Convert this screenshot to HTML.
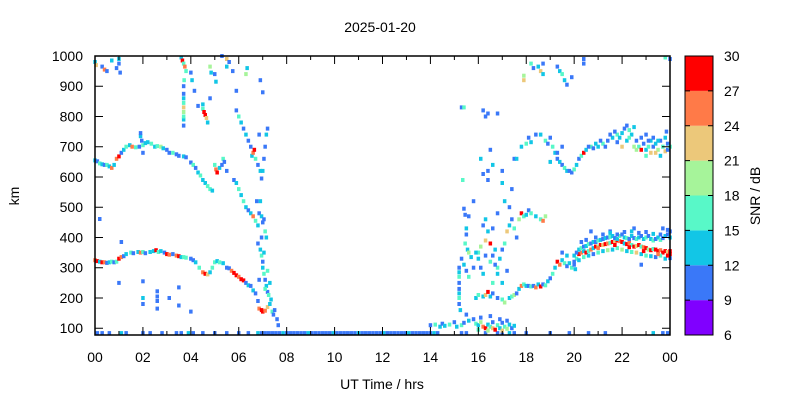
<!DOCTYPE html>
<html><head><meta charset="utf-8"><style>
body{margin:0;background:#fff;}
svg{display:block;font-family:"Liberation Sans",sans-serif;}
</style></head><body>
<svg id="chart" width="800" height="400" viewBox="0 0 800 400">
<rect width="800" height="400" fill="#fff"/>
<text x="380" y="32" font-size="14" text-anchor="middle">2025-01-20</text>
<text x="382" y="389" font-size="14" text-anchor="middle">UT Time / hrs</text>
<text transform="translate(19,196) rotate(-90)" font-size="14" text-anchor="middle">km</text>
<text transform="translate(760,196) rotate(-90)" font-size="14" text-anchor="middle">SNR / dB</text>
<g id="marks"></g>
<g id="axes"></g>
<g id="cbar"></g>
</svg>
<script>
const xTicks=["00","02","04","06","08","10","12","14","16","18","20","22","00"];
const yTicks=[100,200,300,400,500,600,700,800,900,1000];
const cbTicks=[6,9,12,15,18,21,24,27,30];
const cbColors=["#8000ff","#3a78f8","#12c6e6","#58f8c8","#a6f49a","#ecc87a","#ff7a48","#ff0000"];
const baseTimes=[0.1,0.3,0.6,1.1,1.3,2.0,2.3,2.8,3.4,3.6,3.9,4.1,4.5,5.0,5.5,6.0,6.4,6.8,6.95,7.1,7.25,7.4,7.55,7.7,7.85,8.0,8.15,8.3,8.45,8.6,8.75,8.9,9.05,9.2,9.35,9.5,9.65,9.8,9.95,10.1,10.25,10.4,10.55,10.7,10.85,11.0,11.15,11.3,11.45,11.6,11.75,11.9,12.05,12.2,12.35,12.5,12.65,12.8,12.95,13.1,13.25,13.4,13.55,13.7,13.85,14.0,14.15,14.3,15.3,15.5,16.3,16.8,17.0,17.3,17.5,18.0,19.0,19.8,20.6,21.3,23.3,23.7,23.9];
const baseKm=84;
const morningF=[0.0,325,25,0.1,322,28,0.2,320,13,0.3,318,28,0.4,318,25,0.5,316,10,0.6,318,13,0.7,320,16,0.8,318,10,0.9,320,16,1.0,330,28,1.1,335,25,1.2,338,10,1.3,345,13,1.5,350,16,1.6,348,10,1.8,352,13,1.9,350,25,2.0,352,16,2.1,348,10,2.3,352,13,2.45,355,13,2.55,358,28,2.65,352,16,2.75,355,13,2.9,350,10,3.0,345,28,3.1,343,25,3.25,345,10,3.4,340,25,3.5,338,28,3.6,335,13,3.7,335,16,3.8,333,16,4.0,330,10,4.1,325,10,4.2,318,13,4.35,300,16,4.5,285,25,4.6,280,28,4.7,278,22,4.8,285,13,4.9,300,16,5.0,318,16,5.1,322,13,5.2,318,16,5.35,315,13,5.5,300,10,5.6,298,10,5.7,290,25,5.8,283,28,5.9,275,28,6.0,270,25,6.1,262,28,6.2,258,28,6.3,250,10,6.4,242,13,6.5,240,10,6.6,225,13,6.7,215,10,6.8,190,10,6.85,165,25,6.95,160,28,7.0,155,28,7.1,158,25,7.2,170,22,7.3,180,13,7.4,155,16,7.45,145,10,
6.8,380,10,6.9,360,13,6.95,340,16,7.0,320,10,7.0,300,13,7.05,280,16,7.1,260,10,7.15,240,13,7.2,220,10,7.25,210,16,7.3,250,13,7.1,230,16,7.35,195,13,7.5,160,10,7.6,130,10,7.65,110,10,6.95,400,10,7.05,350,13,7.2,290,16,6.85,260,10,
1.0,250,10,2.0,255,10,2.0,200,13,2.0,180,10,2.6,222,10,2.6,205,10,2.6,190,10,2.6,165,10,3.1,200,10,3.5,235,10,3.5,175,10,4.0,155,10,1.1,385,10,0.2,461,10];
const morningUpper=[0.0,655,13,0.1,652,10,0.2,645,16,0.3,642,13,0.4,640,10,0.5,640,16,0.6,635,13,0.7,630,25,0.8,640,13,0.9,660,25,1.0,668,28,1.1,680,10,1.2,690,13,1.3,700,16,1.45,705,13,1.55,700,25,1.7,698,16,1.85,700,10,2.0,705,16,2.1,712,13,2.2,715,13,2.35,710,16,2.5,700,13,2.6,702,16,2.75,700,19,2.85,695,13,3.0,690,10,3.1,680,10,3.25,680,16,3.4,675,10,3.5,670,10,3.7,668,13,3.8,665,10,4.0,648,10,4.1,640,16,4.2,630,10,4.3,615,13,4.4,605,16,4.5,590,13,4.6,580,13,4.7,570,16,4.8,560,16,4.9,555,13,1.9,735,13,1.9,745,10,1.95,720,10,2.0,680,10,
5.0,640,16,5.05,625,25,5.1,615,28,5.2,630,13,5.3,640,10,5.35,660,16,5.4,650,10,5.5,620,10,
5.8,590,10,5.9,580,13,6.0,560,16,6.1,540,13,6.2,520,16,6.3,500,13,6.4,490,10,6.5,480,13,6.6,470,25,6.7,455,16,6.8,440,13,6.85,480,10,6.95,470,13,7.0,450,10,7.1,420,16,7.15,400,13,6.75,520,10,6.9,520,13,7.05,460,10,
5.9,820,10,6.0,800,16,6.1,780,13,6.2,760,10,6.3,740,13,6.4,720,10,6.5,700,10,6.55,670,13,6.7,660,16,6.8,640,10,6.9,620,13,6.95,595,10,7.0,620,13,7.05,660,10,7.1,700,10,7.15,740,13,7.2,760,10,6.85,740,10,6.6,680,25,6.65,690,28,
3.7,770,10,3.7,790,13,3.7,800,16,3.7,815,19,3.7,830,22,3.7,845,16,3.7,860,13,3.7,875,10,3.7,900,10,3.72,920,16,4.15,885,10,4.3,835,10,4.5,840,13,4.5,825,16,4.55,815,28,4.6,805,28,4.65,795,22,4.7,780,13,4.8,860,10];
const morningTop=[0.0,980,13,0.05,970,22,0.3,965,10,0.4,955,25,0.5,950,10,0.7,985,13,0.9,960,10,1.0,975,10,1.05,945,10,1.0,990,13,3.6,995,13,3.65,985,28,3.7,975,16,3.75,965,25,3.8,950,16,4.0,945,10,4.05,920,13,4.8,965,19,4.85,945,13,5.0,940,10,5.05,915,13,5.3,1000,10,5.5,965,13,5.5,990,22,5.6,980,10,5.75,950,10,6.3,940,19,6.35,960,13,6.9,920,10,7.0,880,10,5.9,885,10];
const eveningLow=[14.0,110,10,14.2,112,16,14.4,105,13,14.5,115,10,14.6,108,13,14.8,112,16,15.0,120,10,15.1,105,13,15.3,110,16,15.4,118,10,15.6,125,13,15.8,130,10,15.9,115,16,16.0,110,13,16.1,120,19,16.2,105,25,16.3,100,28,16.4,112,13,16.5,105,16,16.6,100,22,16.7,95,28,16.8,110,16,16.9,100,13,17.0,118,10,17.1,105,16,17.2,98,19,17.3,112,13,17.4,100,10,17.5,108,13,16.1,135,10,16.5,140,10,15.5,145,10,16.9,130,10,16.0,95,16,16.4,92,19,16.6,120,10,17.0,92,22,17.2,125,10,
15.2,180,10,15.2,200,16,15.2,215,13,15.2,230,10,15.2,250,10,15.2,270,16,15.2,285,13,15.2,300,10,15.25,160,13,15.35,590,16,15.4,495,10,15.45,475,10,15.5,430,13,15.5,410,10,15.45,380,16,15.55,360,13,15.6,350,19,15.7,335,13,
15.9,200,13,16.0,210,16,16.2,205,13,16.3,210,22,16.4,220,28,16.5,205,13,16.6,215,10,16.8,200,10,17.0,195,16,17.1,185,19,17.3,200,13,17.4,205,16,17.5,210,19,17.6,215,10,17.7,230,13,17.8,240,25,17.9,245,16,18.0,240,13,18.1,240,10,18.2,238,16,18.3,240,10,18.4,235,25,18.5,245,13,18.6,238,28,18.7,245,10,18.8,242,16,18.9,255,13,19.0,265,10,19.1,280,16,19.2,300,13,19.3,320,28,19.4,310,25,19.5,325,13,19.6,315,16,19.7,305,10,19.8,315,13,19.9,300,16,20.0,310,10,20.05,295,13,
16.0,330,13,16.0,350,16,16.1,370,19,16.1,300,10,16.2,280,13,16.3,340,10,16.3,390,22,16.4,420,13,16.5,380,28,16.5,320,16,16.6,340,10,16.7,360,13,16.8,300,16,16.9,330,13,17.0,360,10,17.1,380,16,17.2,420,22,17.3,440,13,17.4,460,10,17.5,430,16,17.6,400,10,17.7,460,19,17.8,480,28,17.9,470,16,18.0,475,13,18.1,490,10,18.2,480,16,18.4,470,13,18.6,460,16,18.7,455,25,18.8,470,19,16.7,310,10,16.8,280,13,16.6,250,16,17.2,290,10,17.0,250,13,15.6,470,10,15.8,520,10,16.2,610,10,16.4,620,10,16.6,640,13,16.4,590,10,17.0,620,10,17.4,560,10,17.0,580,13,
15.3,330,10,15.4,310,13,15.5,290,10,15.6,270,16,15.8,300,10,15.9,350,13,16.2,440,10,16.3,460,13,16.6,430,10,16.8,480,10,17.1,520,13,17.3,500,10];
const eveningUpper=[16.2,820,10,16.4,810,10,16.8,810,10,17.5,660,10,17.6,660,13,17.8,700,13,18.0,710,16,18.1,730,10,18.2,715,13,18.4,740,10,18.6,740,13,18.8,720,16,18.9,710,10,19.0,730,10,19.1,700,16,19.2,680,13,19.3,660,10,19.4,650,13,19.5,640,10,19.6,630,16,19.7,620,13,19.8,620,10,19.9,615,10,20.0,625,16,20.1,640,13,20.2,660,10,20.3,670,16,20.4,680,28,20.5,690,13,20.7,700,16,20.8,695,10,21.0,700,13,21.2,710,16,21.4,720,10,21.6,730,13,21.8,740,16,22.0,745,13,22.1,760,10,22.3,755,16,22.4,740,13,22.6,720,10,22.7,700,16,22.8,690,28,22.9,710,10,23.0,690,13,23.1,700,16,23.2,680,22,23.3,700,10,23.4,710,13,23.5,690,19,23.6,670,13,23.7,700,16,23.8,685,22,23.9,710,10,22.2,720,13,22.5,700,19,22.8,730,10,23.2,720,13,23.6,720,10,23.8,730,13,21.8,715,10,21.9,730,13,22.3,730,16,22.0,700,22,23.0,670,16,23.4,680,22,22.6,690,19,23.85,750,10,23.0,740,10,
20.6,700,10,20.9,710,13,21.1,720,10,21.3,700,10,21.5,740,10,21.7,750,10,22.2,770,10,22.5,765,13,23.1,720,10,23.3,730,10,23.5,720,13,23.9,690,10,24.0,700,16,19.3,680,10,19.5,700,10,19.0,650,13,
17.9,920,22,17.9,935,19,18.2,975,16,18.3,960,10,18.5,965,13,18.6,950,22,18.7,940,13,18.7,975,10,19.3,965,10,19.4,950,13,19.5,940,16,19.6,920,13,19.7,905,10,19.9,930,10,20.4,990,10,20.4,975,10,23.8,995,16,24.0,990,10,15.3,830,10,15.4,830,16,16.3,800,10,16.1,660,13,16.5,690,10];
const eveningF=[20.1,330,16,20.2,345,28,20.3,350,25,20.4,355,13,20.5,350,28,20.6,355,16,20.7,360,25,20.8,365,13,20.9,370,28,21.0,370,19,21.1,375,28,21.2,375,22,21.3,378,28,21.4,380,25,21.5,382,16,21.6,385,28,21.7,385,22,21.8,390,28,21.9,388,25,22.0,385,28,22.1,380,13,22.2,378,28,22.3,382,25,22.4,375,16,22.5,370,28,22.6,372,22,22.7,375,28,22.8,370,16,22.9,368,25,23.0,365,28,23.1,360,19,23.2,358,28,23.3,362,16,23.4,360,28,23.5,355,28,23.6,358,25,23.7,350,28,23.8,355,28,23.9,352,22,24.0,355,28,
20.0,340,13,20.1,350,10,20.2,360,13,20.3,365,16,20.4,370,10,20.5,372,13,20.6,378,16,20.7,380,10,20.8,385,13,20.9,385,10,21.0,390,16,21.1,392,13,21.2,395,10,21.3,398,13,21.4,400,10,21.5,402,16,21.6,405,13,21.7,398,10,21.8,395,13,21.9,405,16,22.0,410,10,22.1,400,13,22.2,398,16,22.3,395,10,22.4,405,13,22.5,398,10,22.6,395,16,22.7,400,13,22.8,405,10,22.9,395,13,23.0,400,16,23.1,405,10,23.2,395,13,23.3,390,16,23.4,395,10,23.5,400,13,23.6,392,16,23.7,398,10,23.8,405,13,23.9,410,10,24.0,400,13,
20.0,320,10,20.2,325,13,20.4,335,16,20.6,340,13,20.8,345,10,21.0,350,16,21.2,355,13,21.4,358,19,21.6,360,13,21.8,365,16,22.0,360,19,22.2,355,13,22.4,352,16,22.6,350,22,22.8,345,13,23.0,340,16,23.2,338,13,23.4,335,10,23.6,340,16,23.8,330,13,24.0,332,10,21.5,420,10,22.5,430,10,23.7,430,10,20.7,420,10,19.7,340,13,19.5,350,10,22.8,310,10,
20.3,385,10,20.5,392,10,20.9,400,10,21.2,410,10,21.5,415,13,21.8,410,10,22.1,418,10,22.4,420,13,22.7,415,10,23.0,418,10,23.3,412,13,23.6,410,10,23.9,425,10,24.0,420,10,21.0,365,25,21.7,375,28,22.3,368,28,22.9,355,28,23.5,345,25,23.9,340,28,24.0,345,28];

const X0=95,X1=670,Y0=56,Y1=335,KMIN=77.6,KMAX=1000;
const xOf=t=>X0+t/24*(X1-X0);
const yOf=k=>Y1-(k-KMIN)/(KMAX-KMIN)*(Y1-Y0);
const colorOf=s=>cbColors[Math.max(0,Math.min(7,Math.floor((s-6)/3)))];
const NS="http://www.w3.org/2000/svg";
const marks=document.getElementById('marks');
function dot(t,k,s){
  const r=document.createElementNS(NS,'rect');
  r.setAttribute('x',(xOf(t)-1.75).toFixed(1));
  r.setAttribute('y',(yOf(k)-2).toFixed(1));
  r.setAttribute('width',3.5);r.setAttribute('height',4);
  r.setAttribute('fill',colorOf(s));
  
  
  marks.appendChild(r);
}
baseTimes.forEach((t,i)=>dot(t,baseKm,i%7===3?13:10));
[morningF,morningUpper,morningTop,eveningLow,eveningUpper,eveningF].forEach(a=>{
  for(let i=0;i<a.length;i+=3)dot(a[i],a[i+1],a[i+2]);
});
const axes=document.getElementById('axes');
function el(tag,attrs,parent){const e=document.createElementNS(NS,tag);for(const k in attrs)e.setAttribute(k,attrs[k]);parent.appendChild(e);return e;}
const frame=el('rect',{x:X0,y:Y0,width:X1-X0,height:Y1-Y0,fill:'none',stroke:'#000','stroke-width':1.5},axes);


for(let h=0;h<=24;h++){
  const x=xOf(h),len=h%2===0?8:4;
  const tk=el('path',{d:`M${x},${Y1}v${-len}M${x},${Y0}v${len}`,stroke:'#000','stroke-width':1},axes);
  
  
}
xTicks.forEach((lab,i)=>{
  const t=el('text',{x:xOf(i*2),y:362,'font-size':14,'text-anchor':'middle'},axes);t.textContent=lab;
  
  
});
yTicks.forEach(v=>{
  const y=yOf(v);
  const tk=el('path',{d:`M${X0},${y}h8M${X1},${y}h-8`,stroke:'#000','stroke-width':1},axes);
  
  
  const t=el('text',{x:83,y:y+5,'font-size':14,'text-anchor':'end'},axes);t.textContent=v;
  
  
});
const cb=document.getElementById('cbar');
const CX=685,CW=28,cy=v=>Y1-(v-6)/24*(Y1-Y0);
cbColors.forEach((c,i)=>{
  const r=el('rect',{x:CX,y:cy(6+3*(i+1)),width:CW,height:cy(6+3*i)-cy(6+3*(i+1)),fill:c},cb);
  
  
});
const cf=el('rect',{x:CX,y:Y0,width:CW,height:Y1-Y0,fill:'none',stroke:'#000','stroke-width':1},cb);


cbTicks.forEach(v=>{
  const y=cy(v);
  const tk=el('path',{d:`M${CX},${y}h5M${CX+CW},${y}h-5`,stroke:'#000'},cb);
  
  
  const t=el('text',{x:724,y:y+5,'font-size':14},cb);t.textContent=v;
  
  
});
</script>
</body></html>
